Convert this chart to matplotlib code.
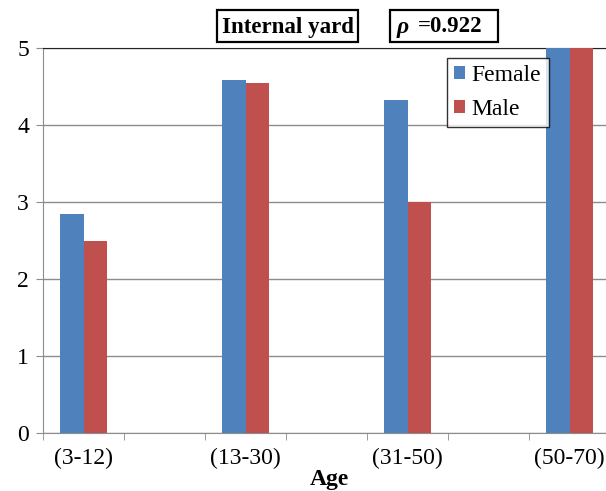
import numpy as np
import matplotlib.pyplot as plt
from matplotlib.patches import Rectangle

# data
age_groups = ["(3-12)", "(13-30)", "(31-50)", "(50-70)"]
female = [2.85, 4.58, 4.33, 5.0]
male = [2.50, 4.54, 3.00, 5.0]

plt.rcParams['font.family'] = ['Liberation Serif', 'DejaVu Serif']

blue = "#4F81BD"
red = "#C0504D"
grid_gray = "#8C8C8C"

W, H = 606, 491
fig = plt.figure(figsize=(W / 100, H / 100), dpi=100)

# plot area: left at 43px, bottom at 433px, top at 48px; 81px per slot
left, bottom, top = 43, 433, 48
slot = 81
ax = fig.add_axes([left / W, (H - bottom) / H, (W - left) / W, (bottom - top) / H])

# Excel layout: each age group sits in every other category slot
pos = np.arange(len(age_groups)) * 2
bw = 0.285
ax.bar(pos - bw / 2, female, bw, color=blue, label="Female", zorder=3)
ax.bar(pos + bw / 2, male, bw, color=red, label="Male", zorder=3)

ax.set_yticks(range(0, 6))
ax.yaxis.grid(True, color=grid_gray, linewidth=1.0, zorder=0)
ax.tick_params(axis='y', length=5, color=grid_gray, labelsize=17, pad=5)

ax.set_xticks(pos)
ax.set_xticklabels(age_groups, fontsize=17)
ax.set_xticks(np.arange(-0.5, 8, 1), minor=True)
ax.tick_params(axis='x', which='major', length=0, pad=11)
ax.tick_params(axis='x', which='minor', length=5, color=grid_gray)

# limits after the ticks, so the tick lists do not widen them
ax.set_xlim(-0.5, -0.5 + (W - left) / slot)
ax.set_ylim(0, 5)

for s in ['left', 'bottom']:
    ax.spines[s].set_color(grid_gray)
ax.spines['right'].set_visible(False)
ax.spines['top'].set_color('#222222')

fig.text(329 / W, 1 - 480 / H, "Age", fontsize=17, fontweight='bold',
         ha='center', va='center')

# title boxes (pixel positions from the reference)
for x0, x1 in [(217, 358), (390, 498)]:
    fig.add_artist(Rectangle((x0 / W, 1 - 42 / H), (x1 - x0) / W, 32 / H,
                             transform=fig.transFigure, facecolor='white',
                             edgecolor='black', linewidth=1.6))
ty = 1 - 27 / H
fig.text(287.5 / W, ty, "Internal yard", fontsize=16.5, fontweight='bold',
         ha='center', va='center')
fig.text(397 / W, ty, "ρ", fontsize=17, fontweight='bold', style='italic',
         ha='left', va='center')
fig.text(418 / W, ty, "=0.922", fontsize=16.5, fontweight='bold',
         ha='left', va='center')

leg = ax.legend(loc='upper left', bbox_to_anchor=((447 - left) / (W - left), 1 - (58 - top) / (bottom - top)),
                fontsize=17, frameon=True, fancybox=False, handlelength=0.45,
                handleheight=0.45, handletextpad=0.3, borderpad=0.3,
                labelspacing=0.55, borderaxespad=0)
leg.get_frame().set_edgecolor('black')
leg.get_frame().set_linewidth(1.0)

fig.savefig("out.png", dpi=100)
